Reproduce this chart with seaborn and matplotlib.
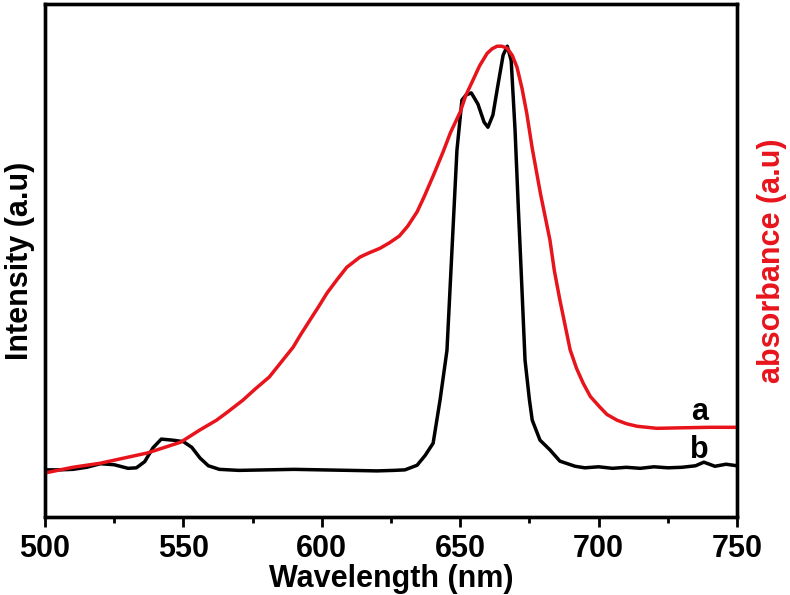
import matplotlib
matplotlib.use("Agg")
import matplotlib.pyplot as plt
import seaborn as sns
import pandas as pd
from matplotlib.ticker import MultipleLocator

# emission spectrum (b), black
wl_b = [500, 505, 510, 515, 520, 525, 530, 533, 536, 539, 542, 546, 550, 553, 556, 559,
        563, 570, 580, 590, 600, 610, 620, 626, 630, 634.4, 637.3, 640.2, 642.7, 645.2,
        647, 648.8, 650.6, 652.1, 654, 656.4, 658.6, 660, 661.8, 663.6, 665.5, 667,
        668.4, 669.8, 671, 672, 673.4, 675, 676, 678.8, 682.4, 686, 691.5, 695, 700,
        705, 710, 715, 720, 725, 730, 735, 738, 742, 746, 750]
intensity_b = [92, 92, 93, 97, 104, 102, 95, 96, 108, 135, 152, 150, 147, 136, 115, 100,
               93, 91, 92, 93, 92, 91, 90, 91, 92, 101, 120, 144, 228, 325,
               520, 715, 813, 823, 827, 805, 770, 760, 784, 842, 901, 918,
               890, 754, 600, 480, 306, 228, 189, 150, 131, 109, 99, 96, 98,
               95, 97, 95, 98, 96, 97, 100, 107, 99, 103, 100]

# absorbance spectrum (a), red
wl_a = [500, 510, 520, 537, 549, 556, 562, 566, 571.5, 576, 581, 585, 589.6, 592.5,
        595.7, 598.8, 601.9, 605.5, 609, 613.8, 617, 621, 624.5, 628, 631, 634.4, 637,
        640.2, 643.8, 646.5, 650, 652, 654.6, 657, 659.7, 661.5, 663.3, 665, 667, 668.8,
        670.5, 672.3, 674, 676, 679, 682.4, 684, 686, 689.7, 692, 694.4, 697, 700.5,
        703, 706.6, 710, 713.9, 721, 730, 740, 750]
absorb_a = [0.086, 0.097, 0.105, 0.125, 0.146, 0.170, 0.189, 0.205, 0.228, 0.250, 0.273,
            0.300, 0.331, 0.357, 0.384, 0.410, 0.437, 0.463, 0.487, 0.507, 0.515, 0.524,
            0.535, 0.548, 0.567, 0.595, 0.625, 0.665, 0.712, 0.750, 0.790, 0.822, 0.852,
            0.880, 0.904, 0.913, 0.918, 0.918, 0.914, 0.900, 0.877, 0.836, 0.788, 0.719,
            0.630, 0.540, 0.480, 0.423, 0.326, 0.290, 0.261, 0.235, 0.214, 0.200, 0.189,
            0.182, 0.177, 0.173, 0.174, 0.175, 0.175]

df_b = pd.DataFrame({"wl": wl_b, "val": intensity_b})
df_a = pd.DataFrame({"wl": wl_a, "val": absorb_a})

sns.set_style("ticks")
plt.rcParams['font.family'] = ['Liberation Sans', 'DejaVu Sans']
plt.rcParams['font.weight'] = 'bold'
plt.rcParams['text.color'] = 'black'
plt.rcParams['axes.labelcolor'] = 'black'
plt.rcParams['xtick.color'] = 'black'

red = "#e8141c"

fig = plt.figure(figsize=(7.9, 5.95), dpi=100)
ax = fig.add_axes([0.057, 0.131, 0.876, 0.862])
ax2 = ax.twinx()

sns.lineplot(data=df_b, x="wl", y="val", ax=ax, color="black", lw=2.5)
sns.lineplot(data=df_a, x="wl", y="val", ax=ax2, color=red, lw=2.5)

ax.set_xlim(500, 750)
ax.set_ylim(0, 1000)
ax2.set_ylim(0, 1)

ax.xaxis.set_major_locator(MultipleLocator(50))
ax.xaxis.set_minor_locator(MultipleLocator(25))
ax.tick_params(axis='x', which='major', length=7, width=2, labelsize=22, pad=5, top=False)
ax.tick_params(axis='x', which='minor', length=4, width=2, top=False)
ax.set_yticks([])
ax2.set_yticks([])
for tl in ax.get_xticklabels():
    tl.set_fontweight('bold')

for a in (ax, ax2):
    for s in a.spines.values():
        s.set_linewidth(2.4)
        s.set_color("black")

ax.set_xlabel("Wavelength (nm)", fontsize=22, fontweight='bold', labelpad=0)
ax.set_ylabel("Intensity (a.u)", fontsize=22, fontweight='bold', labelpad=7)
ax2.set_ylabel("absorbance (a.u)", fontsize=22, fontweight='bold', color=red, labelpad=14)

ax2.text(736.3, 0.205, "a", fontsize=22, fontweight='bold', ha='center', va='center')
ax.text(736.3, 131, "b", fontsize=22, fontweight='bold', ha='center', va='center')

fig.savefig("out.png", dpi=100)
